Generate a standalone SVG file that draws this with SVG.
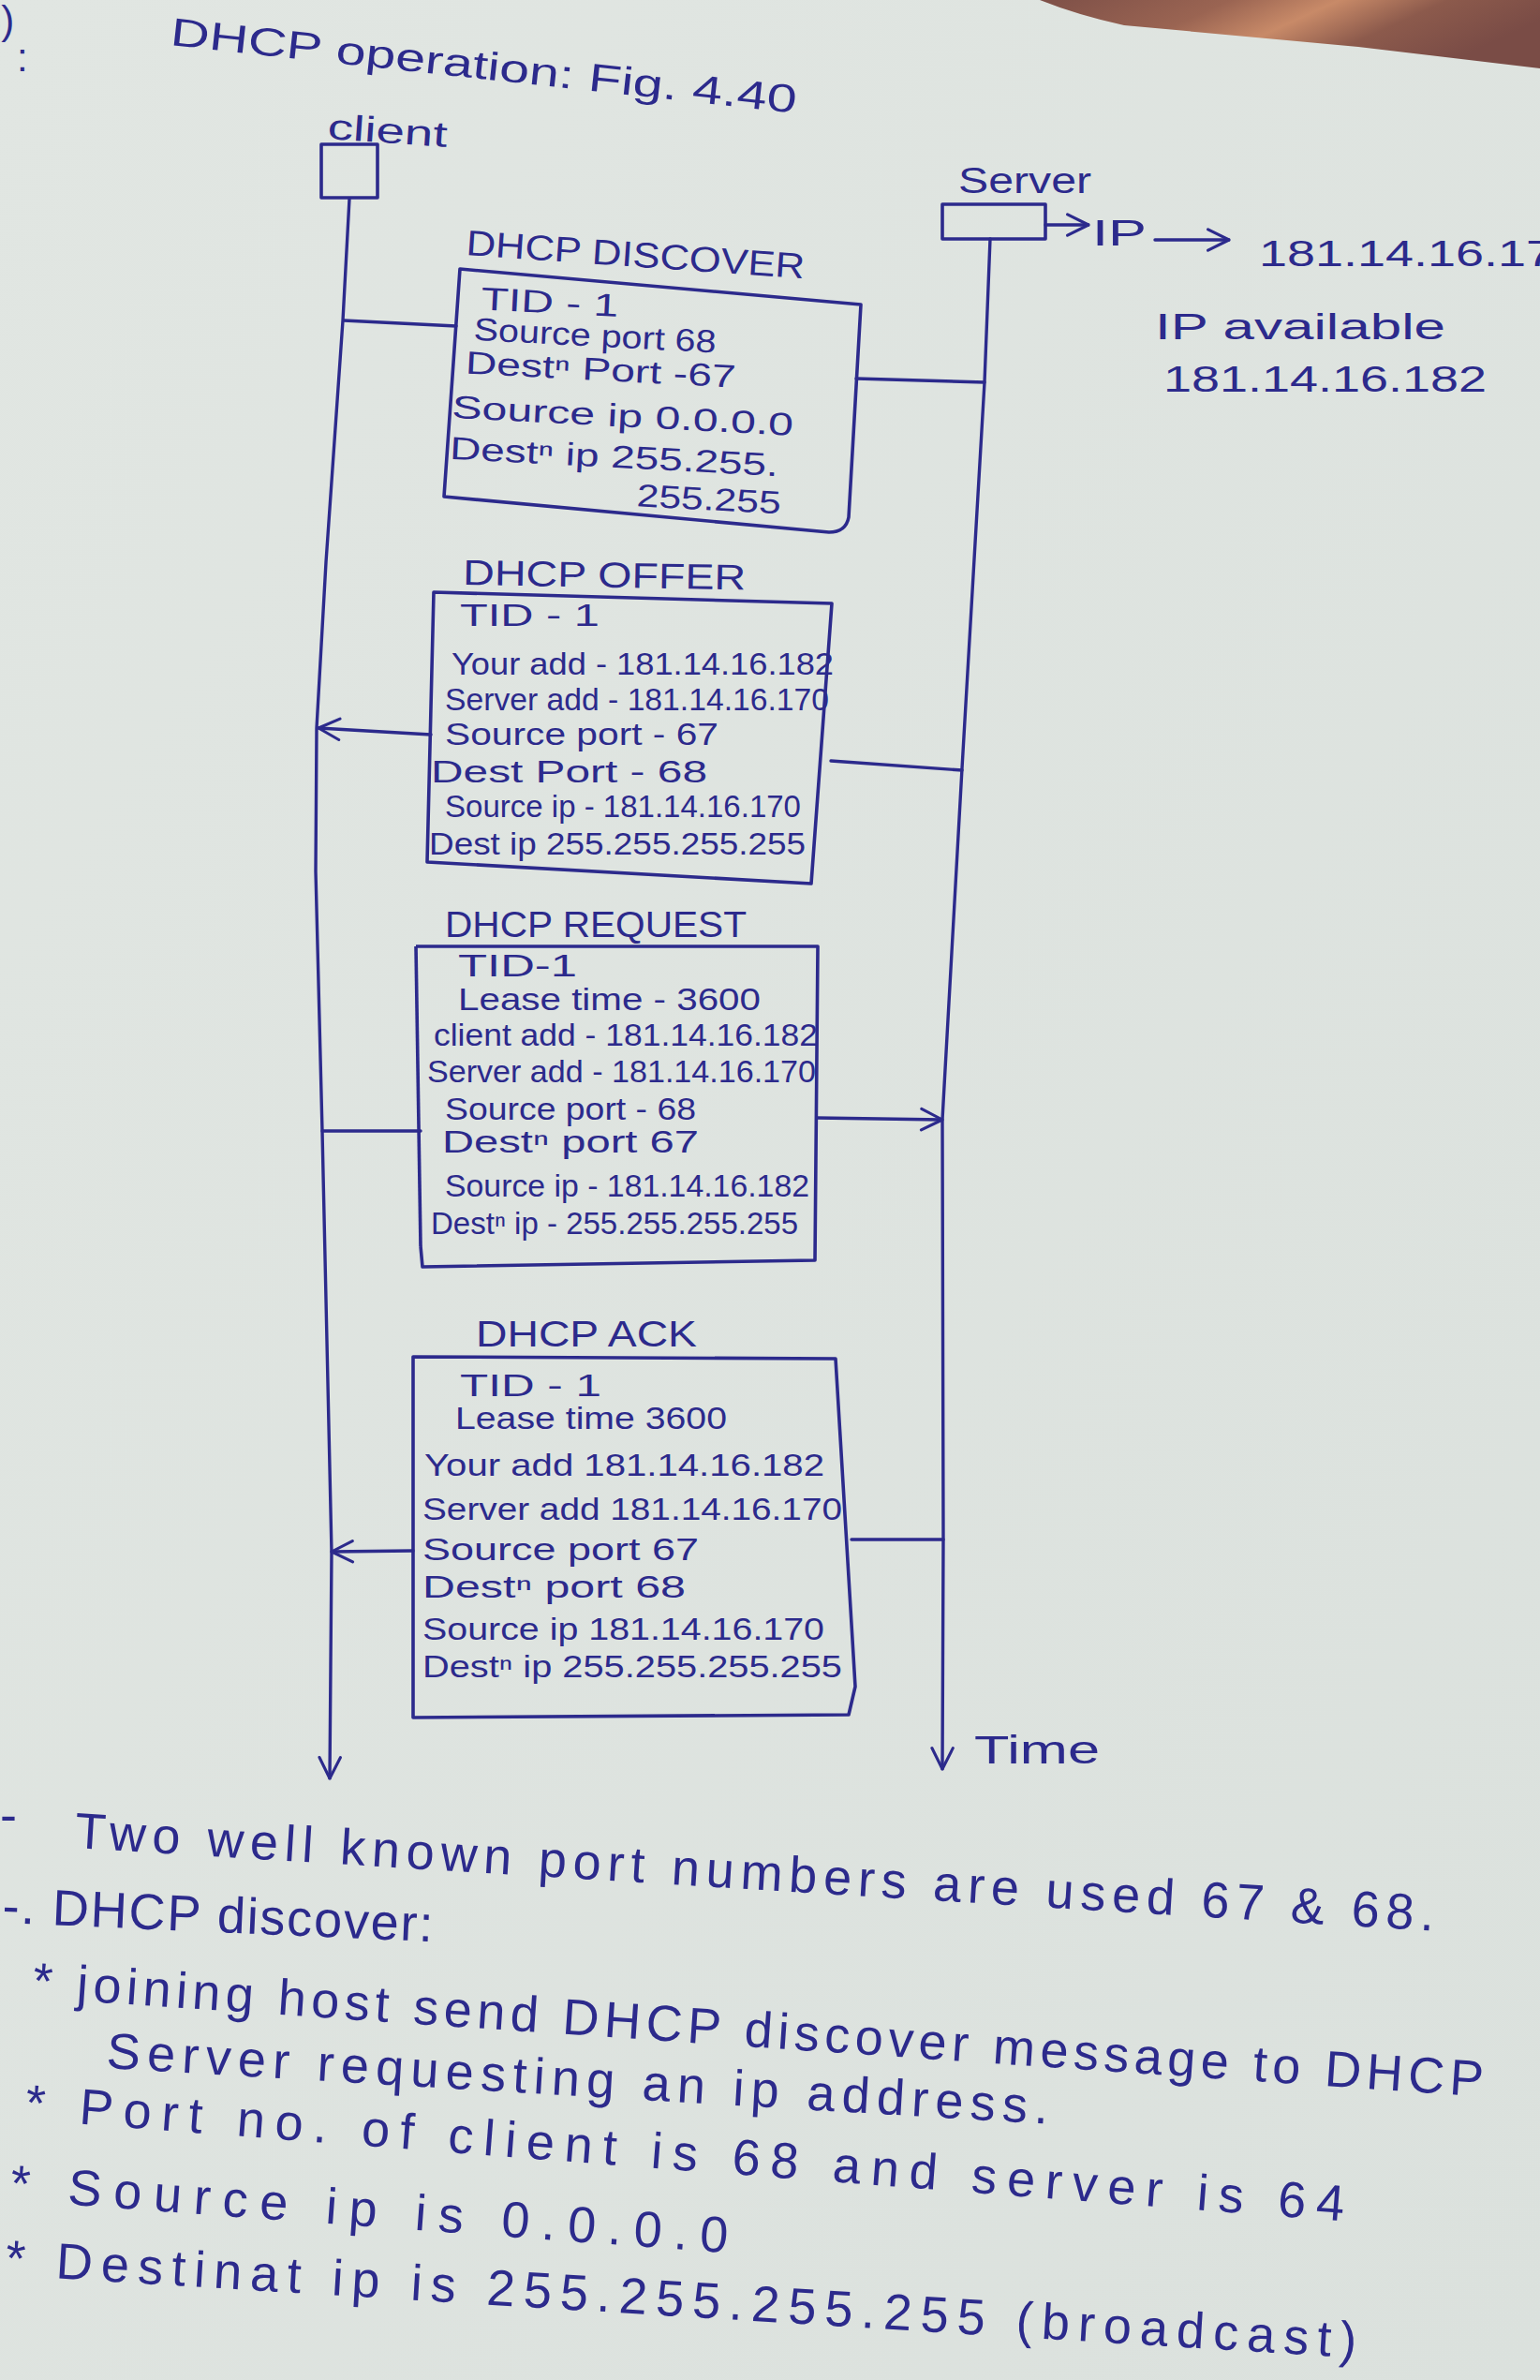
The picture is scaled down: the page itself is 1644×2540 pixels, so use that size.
<svg xmlns="http://www.w3.org/2000/svg" width="1644" height="2540" viewBox="0 0 1644 2540">
  <defs>
    <linearGradient id="paper" x1="0" y1="0" x2="1" y2="1">
      <stop offset="0" stop-color="#e1e6e2"/>
      <stop offset="1" stop-color="#dbe1dd"/>
    </linearGradient>
    <linearGradient id="wood" x1="0" y1="0" x2="1" y2="0.3">
      <stop offset="0" stop-color="#7e5048"/>
      <stop offset="0.35" stop-color="#9a6452"/>
      <stop offset="0.55" stop-color="#c88a68"/>
      <stop offset="0.75" stop-color="#8c5a4c"/>
      <stop offset="1" stop-color="#7a4c46"/>
    </linearGradient>
    <marker id="head" viewBox="0 0 20 20" refX="19" refY="10" markerWidth="28" markerHeight="28" markerUnits="userSpaceOnUse" orient="auto">
      <path d="M3,2 L19,10 L3,18" fill="none" stroke="#2c2a8c" stroke-width="2.2" stroke-linecap="round" stroke-linejoin="round"/>
    </marker>
  </defs>
  <style>
    text { font-family: "Liberation Sans", "DejaVu Sans", sans-serif; fill: #2c2a8c; }
    .t { font-size: 34px; }
    .lbl { font-size: 38px; }
    .big { font-size: 42px; }
    .note { font-size: 54px; }
    .ink { fill: none; stroke: #2c2a8c; stroke-width: 3.4; stroke-linecap: round; stroke-linejoin: round; }
    .box { fill: none; stroke: #2c2a8c; stroke-width: 3.6; stroke-linejoin: round; }
  </style>

  <!-- sheet and table edge -->
  <rect x="0" y="0" width="1644" height="2540" fill="url(#paper)"/>
  <path d="M1110,0 L1644,0 L1644,73 L1450,50 L1200,27 Q1150,16 1110,0 Z" fill="url(#wood)"/>

  <!-- margin marks -->
  <text x="-22" y="36" class="big">3)</text>
  <text x="18" y="76" class="big">:</text>

  <!-- heading -->
  <g id="title">
    <text x="181" y="48" class="big" transform="rotate(6.2 181 48)" textLength="672" lengthAdjust="spacingAndGlyphs">DHCP operation: Fig. 4.40</text>
  </g>

  <!-- client -->
  <g id="client">
    <text x="349" y="148" class="lbl" transform="rotate(4 349 148)" textLength="128" lengthAdjust="spacingAndGlyphs">client</text>
    <rect x="343" y="154" width="60" height="57" class="box"/>
  </g>

  <!-- server -->
  <g id="server">
    <text x="1023" y="206" class="lbl" textLength="142" lengthAdjust="spacingAndGlyphs">Server</text>
    <rect x="1006" y="218" width="110" height="37" class="box"/>
    <text x="1166" y="262" class="lbl" textLength="58" lengthAdjust="spacingAndGlyphs">IP</text>
    <text x="1344" y="284" class="lbl" textLength="345" lengthAdjust="spacingAndGlyphs">181.14.16.170</text>
    <text x="1233" y="362" class="lbl" textLength="310" lengthAdjust="spacingAndGlyphs">IP available</text>
    <text x="1242" y="418" class="lbl" textLength="345" lengthAdjust="spacingAndGlyphs">181.14.16.182</text>
  </g>

  <!-- DHCP DISCOVER message -->
  <g id="discover">
    <text x="497" y="272" class="lbl" transform="rotate(4 497 272)" textLength="362" lengthAdjust="spacingAndGlyphs">DHCP DISCOVER</text>
    <path d="M491,287 L919,325 L906,552 Q903,568 885,568 L474,530 Z" class="box"/>
    <g transform="rotate(3 490 330)">
      <text x="513" y="329" class="t" textLength="147" lengthAdjust="spacingAndGlyphs">TID - 1</text>
      <text x="507" y="362" class="t" textLength="259" lengthAdjust="spacingAndGlyphs">Source port 68</text>
      <text x="500" y="398" class="t" textLength="289" lengthAdjust="spacingAndGlyphs">Destⁿ Port -67</text>
      <text x="488" y="446" class="t" textLength="365" lengthAdjust="spacingAndGlyphs">Source ip  0.0.0.0</text>
      <text x="488" y="490" class="t" textLength="351" lengthAdjust="spacingAndGlyphs">Destⁿ ip  255.255.</text>
      <text x="690" y="530" class="t" textLength="154" lengthAdjust="spacingAndGlyphs">255.255</text>
    </g>
  </g>

  <!-- DHCP OFFER message -->
  <g id="offer">
    <text x="494" y="624" class="lbl" transform="rotate(1 494 624)" textLength="302" lengthAdjust="spacingAndGlyphs">DHCP OFFER</text>
    <path d="M463,632 L888,644 L866,943 L456,920 Z" class="box"/>
    <text x="491" y="668" class="t" textLength="149" lengthAdjust="spacingAndGlyphs">TID - 1</text>
    <text x="482" y="720" class="t" textLength="408" lengthAdjust="spacingAndGlyphs">Your add - 181.14.16.182</text>
    <text x="475" y="758" class="t" textLength="410" lengthAdjust="spacingAndGlyphs">Server add - 181.14.16.170</text>
    <text x="475" y="795" class="t" textLength="292" lengthAdjust="spacingAndGlyphs">Source port - 67</text>
    <text x="460" y="835" class="t" textLength="295" lengthAdjust="spacingAndGlyphs">Dest   Port - 68</text>
    <text x="475" y="872" class="t" textLength="380" lengthAdjust="spacingAndGlyphs">Source ip - 181.14.16.170</text>
    <text x="458" y="912" class="t" textLength="402" lengthAdjust="spacingAndGlyphs">Dest ip 255.255.255.255</text>
  </g>

  <!-- DHCP REQUEST message -->
  <g id="request">
    <text x="475" y="1000" class="lbl" textLength="322" lengthAdjust="spacingAndGlyphs">DHCP REQUEST</text>
    <path d="M444,1010 L873,1010 L870,1345 L451,1352 L449,1330" class="box"/>
    <path d="M444,1010 L449,1330" class="box"/>
    <text x="489" y="1042" class="t" textLength="127" lengthAdjust="spacingAndGlyphs">TID-1</text>
    <text x="489" y="1078" class="t" textLength="323" lengthAdjust="spacingAndGlyphs">Lease time - 3600</text>
    <text x="463" y="1116" class="t" textLength="410" lengthAdjust="spacingAndGlyphs">client add - 181.14.16.182</text>
    <text x="456" y="1155" class="t" textLength="415" lengthAdjust="spacingAndGlyphs">Server add - 181.14.16.170</text>
    <text x="475" y="1195" class="t" textLength="268" lengthAdjust="spacingAndGlyphs">Source port - 68</text>
    <text x="472" y="1230" class="t" textLength="274" lengthAdjust="spacingAndGlyphs">Destⁿ port 67</text>
    <text x="475" y="1277" class="t" textLength="389" lengthAdjust="spacingAndGlyphs">Source ip - 181.14.16.182</text>
    <text x="460" y="1317" class="t" textLength="392" lengthAdjust="spacingAndGlyphs">Destⁿ ip - 255.255.255.255</text>
  </g>

  <!-- DHCP ACK message -->
  <g id="ack">
    <text x="508" y="1437" class="lbl" textLength="236" lengthAdjust="spacingAndGlyphs">DHCP ACK</text>
    <path d="M441,1448 L892,1450 L913,1800 L906,1830 L441,1833 Z" class="box"/>
    <text x="491" y="1490" class="t" textLength="151" lengthAdjust="spacingAndGlyphs">TID - 1</text>
    <text x="486" y="1525" class="t" textLength="290" lengthAdjust="spacingAndGlyphs">Lease time 3600</text>
    <text x="453" y="1575" class="t" textLength="427" lengthAdjust="spacingAndGlyphs">Your add 181.14.16.182</text>
    <text x="451" y="1622" class="t" textLength="448" lengthAdjust="spacingAndGlyphs">Server add 181.14.16.170</text>
    <text x="451" y="1665" class="t" textLength="295" lengthAdjust="spacingAndGlyphs">Source port 67</text>
    <text x="451" y="1705" class="t" textLength="281" lengthAdjust="spacingAndGlyphs">Destⁿ port 68</text>
    <text x="451" y="1750" class="t" textLength="429" lengthAdjust="spacingAndGlyphs">Source ip 181.14.16.170</text>
    <text x="451" y="1790" class="t" textLength="448" lengthAdjust="spacingAndGlyphs">Destⁿ ip 255.255.255.255</text>
  </g>

  <!-- lifelines and message connectors -->
  <g id="connectors">
    <polyline points="373,212 366,342 348,600 338,777 337,930 344,1207 354,1657 352,1898" class="ink" marker-end="url(#head)"/>
    <polyline points="1057,255 1051,408 1027,820 1006,1195 1007,1643 1006,1888" class="ink" marker-end="url(#head)"/>
    <line x1="367" y1="342" x2="487" y2="348" class="ink"/>
    <line x1="914" y1="404" x2="1051" y2="408" class="ink"/>
    <line x1="460" y1="784" x2="340" y2="777" class="ink" marker-end="url(#head)"/>
    <line x1="887" y1="812" x2="1027" y2="822" class="ink"/>
    <line x1="344" y1="1207" x2="449" y2="1207" class="ink"/>
    <line x1="872" y1="1193" x2="1006" y2="1195" class="ink" marker-end="url(#head)"/>
    <line x1="441" y1="1655" x2="354" y2="1656" class="ink" marker-end="url(#head)"/>
    <line x1="909" y1="1643" x2="1007" y2="1643" class="ink"/>
    <line x1="1116" y1="240" x2="1162" y2="240" class="ink" marker-end="url(#head)"/>
    <line x1="1233" y1="256" x2="1312" y2="256" class="ink" marker-end="url(#head)"/>
  </g>

  <g id="time-axis">
    <text x="1040" y="1882" class="big" textLength="134" lengthAdjust="spacingAndGlyphs">Time</text>
  </g>

  <!-- notes under the figure -->
  <g id="notes">
    <text x="0" y="1955" class="note">-</text>
    <text x="79" y="1972" class="note" transform="rotate(3.5 79 1972)" textLength="1454" lengthAdjust="spacing">Two well known port numbers are used 67 &amp; 68.</text>
    <text x="2" y="2052" class="note" transform="rotate(2.5 2 2052)" textLength="460" lengthAdjust="spacing">-. DHCP discover:</text>
    <text x="34" y="2132" class="note" transform="rotate(3.9 34 2132)" textLength="1552" lengthAdjust="spacing">* joining host send  DHCP discover message to DHCP</text>
    <text x="113" y="2207" class="note" transform="rotate(3.4 113 2207)" textLength="1007" lengthAdjust="spacing">Server requesting an ip address.</text>
    <text x="26" y="2262" class="note" transform="rotate(4.4 26 2262)" textLength="1412" lengthAdjust="spacing">* Port no. of client is 68 and server is 64</text>
    <text x="10" y="2348" class="note" transform="rotate(4.2 10 2348)" textLength="768" lengthAdjust="spacing">* Source ip is 0.0.0.0</text>
    <text x="5" y="2428" class="note" transform="rotate(3.5 5 2428)" textLength="1445" lengthAdjust="spacing">* Destinat ip is 255.255.255.255 (broadcast)</text>
  </g>
</svg>
